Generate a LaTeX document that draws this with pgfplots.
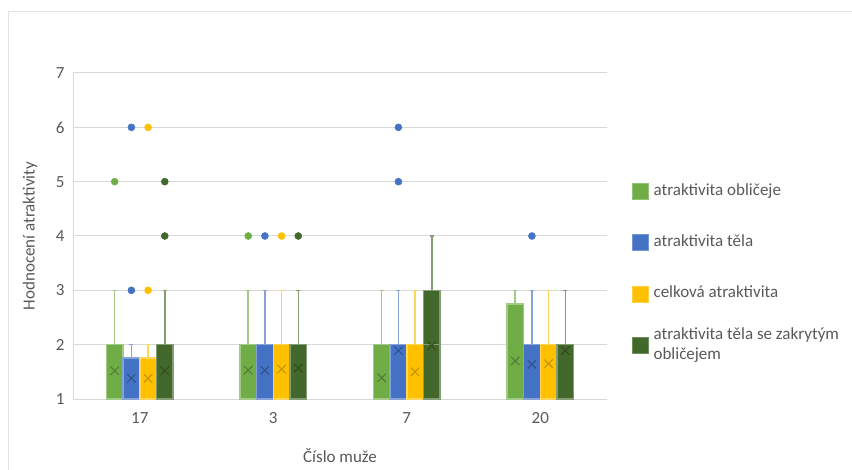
\documentclass[border=0pt]{standalone}
\usepackage{fontspec}
\setmainfont{Carlito}
\usepackage{pgfplots}
\pgfplotsset{compat=1.18}
\usepgfplotslibrary{statistics}

\definecolor{cA}{HTML}{70AD47}
\definecolor{cB}{HTML}{4472C4}
\definecolor{cC}{HTML}{FFC000}
\definecolor{cD}{HTML}{43682B}
\definecolor{txt}{HTML}{595959}
\definecolor{grd}{HTML}{D9D9D9}

\newcommand{\lbl}{\fontsize{17bp}{20bp}\selectfont}

% one prepared box: colour, position, lower whisker, Q1, median, Q3, upper whisker, outliers
\newcommand{\bx}[8]{%
  \addplot[forget plot, fill=#1, draw=#1!65!white, line width=1.5bp,
    boxplot prepared={draw direction=y, draw position=#2, lower whisker=#3, lower quartile=#4,
      median=#5, upper quartile=#6, upper whisker=#7,
      box extend=0.125, whisker extend=0.03},
    mark=*, mark size=3.5bp, mark options={fill=#1, draw=#1, line width=0.5bp}] #8;
}

\begin{document}
\begin{tikzpicture}
\path[use as bounding box] (0,0) rectangle (852bp,470bp);
\draw[gray!22, line width=1bp] (8.5bp,0) |- (852bp,458bp);
\begin{axis}[
  at={(73bp,71bp)}, anchor=south west,
  scale only axis, width=534bp, height=326bp,
  xmin=-0.5, xmax=3.5, ymin=1, ymax=7,
  axis x line*=bottom, axis y line*=left,
  axis line style={draw=grd, line width=1bp, -},
  ymajorgrids, major grid style={draw=grd, line width=1bp},
  major tick length=0pt,
  xtick={0,1,2,3}, xticklabels={17,3,7,20},
  ytick={1,2,3,4,5,6,7},
  /pgf/number format/assume math mode=true,
  tick label style={font=\lbl, text=txt},
  yticklabel style={xshift=-5bp},
  xticklabel style={yshift=-10bp},
  label style={font=\lbl, text=txt},
  xlabel={Číslo muže},
  ylabel={Hodnocení atraktivity},
  xlabel style={at={(axis description cs:0.5,-0.175)}, anchor=center},
  ylabel style={at={(axis description cs:-0.0805,0.5)}, anchor=center},
  legend style={at={(axis description cs:1.0468,0.664)}, anchor=north west,
    draw=none, fill=none, inner sep=0pt, row sep=35bp, column sep=5bp,
    font=\lbl, text=txt, nodes={inner sep=0pt, anchor=west}},
  legend cell align=left,
  clip=false,
]
% 17
\bx{cA}{-0.1875}{1}{1}{1}{2}{3}{table[row sep=\\,y index=0]{y\\5\\}}
\bx{cB}{-0.0625}{1}{1}{1}{1.75}{2}{table[row sep=\\,y index=0]{y\\3\\6\\}}
\bx{cC}{0.0625}{1}{1}{1}{1.75}{2}{table[row sep=\\,y index=0]{y\\3\\6\\}}
\bx{cD}{0.1875}{1}{1}{1}{2}{3}{table[row sep=\\,y index=0]{y\\4\\5\\}}
% 3
\bx{cA}{0.8125}{1}{1}{1}{2}{3}{table[row sep=\\,y index=0]{y\\4\\}}
\bx{cB}{0.9375}{1}{1}{1}{2}{3}{table[row sep=\\,y index=0]{y\\4\\}}
\bx{cC}{1.0625}{1}{1}{1}{2}{3}{table[row sep=\\,y index=0]{y\\4\\}}
\bx{cD}{1.1875}{1}{1}{1}{2}{3}{table[row sep=\\,y index=0]{y\\4\\}}
% 7
\bx{cA}{1.8125}{1}{1}{1}{2}{3}{coordinates {}}
\bx{cB}{1.9375}{1}{1}{2}{2}{3}{table[row sep=\\,y index=0]{y\\5\\6\\}}
\bx{cC}{2.0625}{1}{1}{1}{2}{3}{coordinates {}}
\bx{cD}{2.1875}{1}{1}{2}{3}{4}{coordinates {}}
% 20
\bx{cA}{2.8125}{1}{1}{1}{2.75}{3}{coordinates {}}
\bx{cB}{2.9375}{1}{1}{1}{2}{3}{table[row sep=\\,y index=0]{y\\4\\}}
\bx{cC}{3.0625}{1}{1}{1}{2}{3}{coordinates {}}
\bx{cD}{3.1875}{1}{1}{2}{2}{3}{coordinates {}}

% means
\addplot[forget plot, only marks, mark=x, mark size=6bp, mark options={draw=cA!70!black, line width=1bp}]
  coordinates {(-0.1875,1.52) (0.8125,1.53) (1.8125,1.39) (2.8125,1.70)};
\addplot[forget plot, only marks, mark=x, mark size=6bp, mark options={draw=cB!70!black, line width=1bp}]
  coordinates {(-0.0625,1.38) (0.9375,1.53) (1.9375,1.89) (2.9375,1.64)};
\addplot[forget plot, only marks, mark=x, mark size=6bp, mark options={draw=cC!75!black, line width=1bp}]
  coordinates {(0.0625,1.38) (1.0625,1.55) (2.0625,1.50) (3.0625,1.65)};
\addplot[forget plot, only marks, mark=x, mark size=6bp, mark options={draw=cD!70!black, line width=1bp}]
  coordinates {(0.1875,1.52) (1.1875,1.57) (2.1875,1.98) (3.1875,1.89)};

\addlegendimage{legend image code/.code={\filldraw[fill=cA, draw=cA!75!white] (0bp,-3bp) rectangle (16bp,13bp);}}
\addlegendentry{\smash{atraktivita obličeje}}
\addlegendimage{legend image code/.code={\filldraw[fill=cB, draw=cB!75!white] (0bp,-3bp) rectangle (16bp,13bp);}}
\addlegendentry{\smash{atraktivita těla}}
\addlegendimage{legend image code/.code={\filldraw[fill=cC, draw=cC!75!white] (0bp,-3bp) rectangle (16bp,13bp);}}
\addlegendentry{\smash{celková atraktivita}}
\addlegendimage{legend image code/.code={\filldraw[fill=cD, draw=cD!75!white] (0bp,-3bp) rectangle (16bp,13bp);}}
\addlegendentry{\smash{\begin{tabular}[c]{@{}l@{}}atraktivita těla se zakrytým\\obličejem\end{tabular}}}
\end{axis}
\end{tikzpicture}
\end{document}
